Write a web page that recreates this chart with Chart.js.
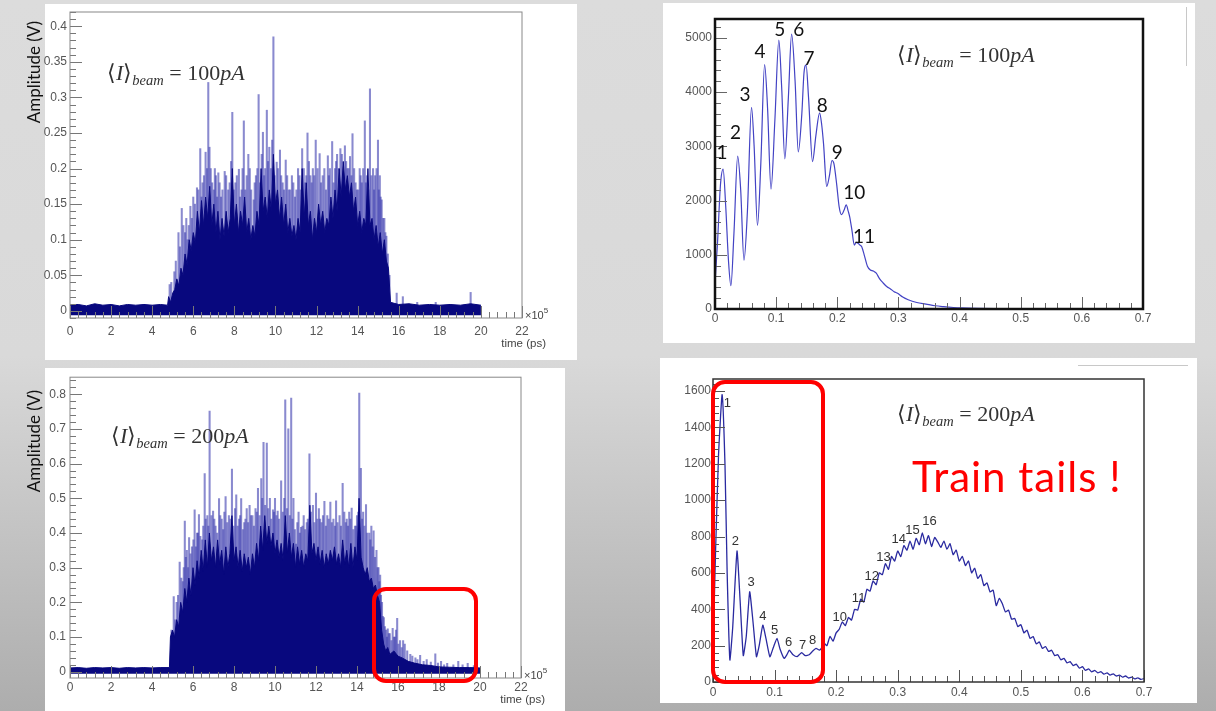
<!DOCTYPE html>
<html>
<head>
<meta charset="utf-8">
<title>Beam time structure</title>
<script src="https://cdn.jsdelivr.net/npm/chart.js@4.4.1/dist/chart.umd.min.js"></script>
<style>
  html, body { margin: 0; padding: 0; }
  body {
    position: relative; width: 1216px; height: 711px; overflow: hidden;
    background: linear-gradient(to bottom, #dcdcdc 0%, #d9d9d9 50%, #adadad 100%);
  }
  .panel { position: absolute; background: #fff; }
  canvas { position: absolute; }
  .ytitle { position: absolute; font: 17px Lato, sans-serif; color: #111; white-space: nowrap;
            transform: translate(-50%, -50%) rotate(-90deg); }
  .beam { position: absolute; font: 22px/22px "Liberation Serif", serif; color: #333; white-space: nowrap; }
  .beam sub { font-size: 14.5px; vertical-align: -5px; line-height: 0; }
  .tails { position: absolute; left: 912px; top: 455px; font: 42px/42px Lato, sans-serif; letter-spacing: 1px;
           color: #f00; white-space: nowrap; }
  .redbox { position: absolute; border: 4.5px solid #f00; border-radius: 14px; box-sizing: border-box; }
  .rule { position: absolute; background: #c8c8c8; }
</style>
</head>
<body>
<div class="panel" style="left:45px;top:4px;width:532px;height:356px"></div>
<div class="panel" style="left:663px;top:3px;width:532px;height:340px"></div>
<div class="panel" style="left:45px;top:368px;width:520px;height:343px"></div>
<div class="panel" style="left:660px;top:358px;width:537px;height:345px"></div>
<div class="rule" style="left:1186px;top:7px;width:1px;height:59px"></div>
<div class="rule" style="left:1078px;top:365px;width:110px;height:1px"></div>

<canvas id="wave100" width="580" height="362" style="left:0;top:0"></canvas>
<canvas id="hist100" width="532" height="340" style="left:663px;top:3px"></canvas>
<canvas id="wave200" width="570" height="345" style="left:0;top:366px"></canvas>
<canvas id="hist200" width="537" height="345" style="left:660px;top:358px"></canvas>

<div class="ytitle" style="left:33px;top:72px">Amplitude (V)</div>
<div class="ytitle" style="left:33px;top:441px">Amplitude (V)</div>
<div class="beam" style="left:107px;top:62px">⟨<i>I</i>⟩<sub><i>beam</i></sub> = 100<i>pA</i></div>
<div class="beam" style="left:111px;top:425px">⟨<i>I</i>⟩<sub><i>beam</i></sub> = 200<i>pA</i></div>
<div class="beam" style="left:897px;top:44px">⟨<i>I</i>⟩<sub><i>beam</i></sub> = 100<i>pA</i></div>
<div class="beam" style="left:897px;top:403px">⟨<i>I</i>⟩<sub><i>beam</i></sub> = 200<i>pA</i></div>
<div class="tails">Train tails !</div>
<div class="redbox" style="left:372px;top:587px;width:106px;height:96px"></div>
<div class="redbox" style="left:711px;top:380px;width:114px;height:304px"></div>

<script>
// time axis (units of 1e5 ps)
const timeTicks = [0, 2, 4, 6, 8, 10, 12, 14, 16, 18, 20, 22];
const timeLabels = ['0', '2', '4', '6', '8', '10', '12', '14', '16', '18', '20', '22'];

// --- top left : oscilloscope trace, 100 pA
const p1YTicks = [0, 0.05, 0.1, 0.15, 0.2, 0.25, 0.3, 0.35, 0.4];
const p1YLabels = ['0', '0.05', '0.1', '0.15', '0.2', '0.25', '0.3', '0.35', '0.4'];
// tall isolated pulses
const p1SpikeTime = [
  4.85, 4.93, 5.08, 5.28, 5.44, 5.6, 5.72, 5.86, 6.0, 6.18,
  6.34, 6.45, 6.6, 6.73, 6.85, 7.0, 7.1, 7.22, 7.35, 7.53,
  7.7, 7.9, 8.05, 8.22, 8.35, 8.46, 8.6, 8.75, 8.94, 9.05,
  9.18, 9.39, 9.5, 9.58, 9.7, 9.9, 10.06, 10.22, 10.35, 10.5,
  10.65, 10.8, 10.95, 11.1, 11.3, 11.45, 11.56, 11.7, 11.82, 11.96,
  12.15, 12.3, 12.55, 12.65, 12.76, 12.9, 13.0, 13.16, 13.38, 13.5,
  13.63, 13.75, 13.96, 14.1, 14.2, 14.35, 14.45, 14.6, 14.75, 14.85,
  14.99, 15.08, 15.17, 15.3, 15.4, 15.47, 15.55, 15.9, 16.2, 16.9,
  17.8, 19.5
];
const p1SpikeAmp = [
  0.037, 0.04, 0.055, 0.11, 0.144, 0.11, 0.1, 0.147, 0.16, 0.173,
  0.228, 0.18, 0.223, 0.321, 0.2, 0.17, 0.19, 0.194, 0.16, 0.196,
  0.17, 0.279, 0.18, 0.199, 0.17, 0.267, 0.19, 0.2, 0.156, 0.19,
  0.304, 0.251, 0.2, 0.282, 0.23, 0.385, 0.209, 0.226, 0.18, 0.212,
  0.17, 0.19, 0.16, 0.2, 0.228, 0.18, 0.25, 0.19, 0.2, 0.24,
  0.221, 0.19, 0.218, 0.2, 0.238, 0.2, 0.22, 0.228, 0.232, 0.2,
  0.217, 0.249, 0.17, 0.2, 0.18, 0.267, 0.19, 0.312, 0.2, 0.19,
  0.24, 0.19, 0.156, 0.13, 0.105, 0.08, 0.05, 0.025, 0.02, 0.012,
  0.012, 0.026
];
// shorter pulses packed between them
const p1PulseTime = [
  5.15, 5.35, 5.52, 5.66, 5.78, 5.93, 6.08, 6.25, 6.4, 6.52,
  6.67, 6.79, 6.92, 7.05, 7.16, 7.28, 7.42, 7.6, 7.77, 7.84,
  7.97, 8.12, 8.28, 8.4, 8.53, 8.68, 8.82, 8.99, 9.12, 9.25,
  9.33, 9.45, 9.64, 9.78, 9.84, 9.96, 10.12, 10.28, 10.42, 10.57,
  10.72, 10.87, 11.02, 11.17, 11.23, 11.38, 11.5, 11.63, 11.76, 11.89,
  12.05, 12.22, 12.38, 12.46, 12.6, 12.83, 12.95, 13.08, 13.23, 13.3,
  13.44, 13.56, 13.7, 13.83, 13.9, 14.03, 14.15, 14.27, 14.4, 14.52,
  14.67, 14.8, 14.92, 15.03, 15.12, 15.24, 15.35
];
const p1PulseAmp = [
  0.07, 0.09, 0.12, 0.13, 0.12, 0.13, 0.15, 0.17, 0.16, 0.19,
  0.2, 0.23, 0.18, 0.2, 0.16, 0.18, 0.17, 0.19, 0.18, 0.21,
  0.17, 0.19, 0.16, 0.2, 0.17, 0.22, 0.17, 0.18, 0.2, 0.18,
  0.22, 0.19, 0.21, 0.2, 0.24, 0.19, 0.2, 0.19, 0.17, 0.19,
  0.17, 0.18, 0.17, 0.19, 0.17, 0.2, 0.19, 0.21, 0.18, 0.19,
  0.2, 0.18, 0.2, 0.17, 0.19, 0.18, 0.21, 0.2, 0.22, 0.19,
  0.21, 0.2, 0.19, 0.2, 0.18, 0.17, 0.19, 0.2, 0.18, 0.17,
  0.19, 0.17, 0.2, 0.17, 0.16, 0.13, 0.11
];
// dense dark part of the trace (upper edge)
const p1BodyTime = [
  0, 0.4, 0.8, 1.2, 1.6, 2.0, 2.4, 2.8, 3.2, 3.6, 4.0, 4.4, 4.75,
  4.8, 4.9,
  5.0, 5.1, 5.2, 5.3, 5.4, 5.5, 5.6, 5.7, 5.8, 5.9,
  6.0, 6.1, 6.2, 6.3, 6.4, 6.5, 6.6, 6.7, 6.8, 6.9,
  7.0, 7.1, 7.2, 7.3, 7.4, 7.5, 7.6, 7.7, 7.8, 7.9,
  8.0, 8.1, 8.2, 8.3, 8.4, 8.5, 8.6, 8.7, 8.8, 8.9,
  9.0, 9.1, 9.2, 9.3, 9.4, 9.5, 9.6, 9.7, 9.8, 9.9,
  10.0, 10.1, 10.2, 10.3, 10.4, 10.5, 10.6, 10.7, 10.8, 10.9,
  11.0, 11.1, 11.2, 11.3, 11.4, 11.5, 11.6, 11.7, 11.8, 11.9,
  12.0, 12.1, 12.2, 12.3, 12.4, 12.5, 12.6, 12.7, 12.8, 12.9,
  13.0, 13.1, 13.2, 13.3, 13.4, 13.5, 13.6, 13.7, 13.8, 13.9,
  14.0, 14.1, 14.2, 14.3, 14.4, 14.5, 14.6, 14.7, 14.8, 14.9,
  15.0, 15.1, 15.2, 15.3, 15.4, 15.5, 15.6,
  16.0, 16.5, 17.0, 17.5, 18.0, 18.5, 19.0, 19.5, 20.0
];
const p1BodyAmp = [
  0.008, 0.009, 0.007, 0.01, 0.008, 0.009, 0.007, 0.009, 0.008, 0.009, 0.008, 0.009, 0.008,
  0.02, 0.012,
  0.025, 0.03, 0.045, 0.035, 0.06, 0.05, 0.08, 0.065, 0.1, 0.085,
  0.11, 0.095, 0.14, 0.11, 0.155, 0.12, 0.16, 0.13, 0.175, 0.12,
  0.15, 0.11, 0.14, 0.1, 0.13, 0.105, 0.14, 0.11, 0.13, 0.2,
  0.12, 0.15, 0.11, 0.14, 0.12, 0.16, 0.11, 0.13, 0.1, 0.12,
  0.105, 0.14, 0.12, 0.2, 0.14, 0.16, 0.13, 0.17, 0.14, 0.22,
  0.15, 0.17, 0.13, 0.16, 0.12, 0.15, 0.11, 0.13, 0.105, 0.12,
  0.1, 0.13, 0.11, 0.2, 0.13, 0.18, 0.12, 0.14, 0.1, 0.13,
  0.11, 0.15, 0.12, 0.14, 0.11, 0.13, 0.12, 0.16, 0.13, 0.17,
  0.14, 0.2, 0.16, 0.21, 0.17, 0.19, 0.16, 0.18, 0.14, 0.16,
  0.12, 0.14, 0.11, 0.13, 0.12, 0.2, 0.12, 0.13, 0.1, 0.12,
  0.09, 0.11, 0.08, 0.1, 0.07, 0.06, 0.012,
  0.009, 0.01, 0.008, 0.009, 0.008, 0.009, 0.008, 0.01, 0.008
];

// --- bottom left : oscilloscope trace, 200 pA
const p3YTicks = [0, 0.1, 0.2, 0.3, 0.4, 0.5, 0.6, 0.7, 0.8];
const p3YLabels = ['0', '0.1', '0.2', '0.3', '0.4', '0.5', '0.6', '0.7', '0.8'];
const p3SpikeTime = [
  4.95, 5.06, 5.2, 5.35, 5.5, 5.6, 5.7, 5.81, 5.95, 6.08,
  6.2, 6.29, 6.45, 6.57, 6.7, 6.81, 6.98, 7.1, 7.27, 7.4,
  7.59, 7.75, 7.9, 8.11, 8.25, 8.35, 8.5, 8.62, 8.76, 8.9,
  9.05, 9.17, 9.33, 9.44, 9.6, 9.75, 9.9, 10.0, 10.13, 10.3,
  10.5, 10.65, 10.79, 10.9, 11.03, 11.15, 11.27, 11.4, 11.55, 11.68,
  11.85, 12.0, 12.2, 12.41, 12.55, 12.7, 12.85, 12.98, 13.15, 13.3,
  13.5, 13.62, 13.74, 13.9, 14.0, 14.11, 14.19, 14.3, 14.44, 14.6,
  14.7, 14.81, 14.95, 15.05, 15.13, 15.22, 15.31, 15.42, 15.5, 15.6,
  15.74, 15.85, 15.96, 16.1, 16.33, 16.6, 16.85, 17.08, 17.4, 17.82,
  18.1, 18.4, 18.94, 19.4
];
const p3SpikeAmp = [
  0.12, 0.217, 0.2, 0.316, 0.26, 0.434, 0.35, 0.387, 0.36, 0.467,
  0.4, 0.453, 0.38, 0.571, 0.45, 0.751, 0.463, 0.42, 0.499, 0.44,
  0.505, 0.45, 0.584, 0.51, 0.44, 0.499, 0.43, 0.47, 0.48, 0.45,
  0.47, 0.529, 0.557, 0.661, 0.659, 0.5, 0.467, 0.5, 0.463, 0.55,
  0.784, 0.7, 0.789, 0.5, 0.368, 0.46, 0.416, 0.45, 0.43, 0.628,
  0.48, 0.515, 0.44, 0.491, 0.45, 0.489, 0.44, 0.493, 0.45, 0.543,
  0.44, 0.46, 0.472, 0.42, 0.45, 0.803, 0.586, 0.46, 0.482, 0.4,
  0.42, 0.406, 0.35, 0.3, 0.279, 0.2, 0.156, 0.12, 0.124, 0.11,
  0.125, 0.1, 0.154, 0.09, 0.08, 0.05, 0.04, 0.047, 0.035, 0.052,
  0.03, 0.024, 0.03, 0.024
];
const p3PulseTime = [
  5.13, 5.27, 5.43, 5.55, 5.65, 5.76, 5.88, 6.02, 6.14, 6.24,
  6.36, 6.5, 6.62, 6.75, 6.9, 7.04, 7.18, 7.33, 7.47, 7.53,
  7.67, 7.83, 7.97, 8.05, 8.18, 8.3, 8.43, 8.56, 8.69, 8.83,
  8.97, 9.11, 9.25, 9.38, 9.52, 9.67, 9.82, 9.95, 10.07, 10.2,
  10.38, 10.45, 10.58, 10.72, 10.85, 10.97, 11.09, 11.21, 11.34, 11.47,
  11.6, 11.75, 11.92, 12.07, 12.14, 12.27, 12.34, 12.48, 12.62, 12.77,
  12.92, 13.05, 13.22, 13.38, 13.45, 13.56, 13.68, 13.82, 13.96, 14.06,
  14.25, 14.36, 14.5, 14.65, 14.76, 14.88, 15.0, 15.09, 15.17, 15.26,
  15.36, 15.46, 15.55, 15.68, 15.8, 15.9, 16.02, 16.18, 16.25, 16.45,
  16.7, 16.95, 17.25, 17.6, 17.95, 18.25, 18.7, 19.15, 19.7
];
const p3PulseAmp = [
  0.15, 0.22, 0.27, 0.3, 0.33, 0.3, 0.34, 0.38, 0.36, 0.4,
  0.39, 0.42, 0.44, 0.42, 0.45, 0.44, 0.4, 0.45, 0.41, 0.46,
  0.43, 0.44, 0.42, 0.47, 0.42, 0.45, 0.41, 0.44, 0.43, 0.45,
  0.42, 0.46, 0.45, 0.5, 0.48, 0.47, 0.44, 0.46, 0.45, 0.44,
  0.46, 0.5, 0.47, 0.45, 0.44, 0.41, 0.43, 0.4, 0.42, 0.41,
  0.44, 0.46, 0.43, 0.44, 0.47, 0.43, 0.45, 0.42, 0.44, 0.43,
  0.42, 0.43, 0.42, 0.46, 0.43, 0.42, 0.44, 0.41, 0.42, 0.46,
  0.44, 0.42, 0.4, 0.38, 0.36, 0.33, 0.3, 0.26, 0.22, 0.16,
  0.13, 0.1, 0.11, 0.09, 0.1, 0.12, 0.08, 0.07, 0.09, 0.06,
  0.045, 0.035, 0.03, 0.028, 0.025, 0.02, 0.02, 0.02, 0.018
];
const p3BodyTime = [
  0, 0.4, 0.8, 1.2, 1.6, 2.0, 2.4, 2.8, 3.2, 3.6, 4.0, 4.4, 4.85,
  4.9, 5.0, 5.1, 5.2, 5.3, 5.4, 5.5, 5.6, 5.7, 5.8, 5.9,
  6.0, 6.1, 6.2, 6.3, 6.4, 6.5, 6.6, 6.7, 6.8, 6.9,
  7.0, 7.1, 7.2, 7.3, 7.4, 7.5, 7.6, 7.7, 7.8, 7.9,
  8.0, 8.1, 8.2, 8.3, 8.4, 8.5, 8.6, 8.7, 8.8, 8.9,
  9.0, 9.1, 9.2, 9.3, 9.4, 9.5, 9.6, 9.7, 9.8, 9.9,
  10.0, 10.1, 10.2, 10.3, 10.4, 10.5, 10.6, 10.7, 10.8, 10.9,
  11.0, 11.1, 11.2, 11.3, 11.4, 11.5, 11.6, 11.7, 11.8, 11.9,
  12.0, 12.1, 12.2, 12.3, 12.4, 12.5, 12.6, 12.7, 12.8, 12.9,
  13.0, 13.1, 13.2, 13.3, 13.4, 13.5, 13.6, 13.7, 13.8, 13.9,
  14.0, 14.1, 14.2, 14.3, 14.4, 14.5, 14.6, 14.7, 14.8, 14.9,
  15.0, 15.1, 15.2, 15.3, 15.4, 15.5, 15.6,
  15.8, 16.0, 16.2, 16.5, 16.8, 17.2, 17.6, 18.0, 18.5, 19.0, 19.5, 20.0
];
const p3BodyAmp = [
  0.011, 0.012, 0.01, 0.012, 0.011, 0.012, 0.01, 0.012, 0.011, 0.012, 0.011, 0.012, 0.012,
  0.1, 0.12, 0.1, 0.15, 0.13, 0.2, 0.17, 0.24, 0.2, 0.27, 0.22,
  0.3, 0.25, 0.32, 0.27, 0.35, 0.29, 0.38, 0.3, 0.4, 0.32,
  0.36, 0.3, 0.38, 0.31, 0.35, 0.28, 0.36, 0.3, 0.34, 0.45,
  0.32, 0.36, 0.3, 0.35, 0.29, 0.34, 0.3, 0.33, 0.28, 0.34,
  0.3, 0.37, 0.32, 0.42, 0.35, 0.45, 0.37, 0.42, 0.36, 0.4,
  0.34, 0.38, 0.33, 0.37, 0.32, 0.45, 0.34, 0.4, 0.33, 0.37,
  0.3, 0.36, 0.31, 0.35, 0.3, 0.34, 0.32, 0.48, 0.34, 0.37,
  0.32, 0.36, 0.31, 0.35, 0.3, 0.34, 0.31, 0.35, 0.32, 0.36,
  0.31, 0.34, 0.3, 0.38, 0.31, 0.35, 0.3, 0.37, 0.3, 0.36,
  0.32, 0.5, 0.33, 0.3, 0.28, 0.3, 0.26, 0.27, 0.24, 0.25,
  0.22, 0.2, 0.12, 0.08, 0.06, 0.07, 0.05,
  0.06, 0.045, 0.04, 0.03, 0.025, 0.02, 0.018, 0.014, 0.013, 0.012, 0.012, 0.011
];

// --- top right : time distribution, 100 pA
const p2XTicks = [0, 0.1, 0.2, 0.3, 0.4, 0.5, 0.6, 0.7];
const p2XLabels = ['0', '0.1', '0.2', '0.3', '0.4', '0.5', '0.6', '0.7'];
const p2YTicks = [0, 1000, 2000, 3000, 4000, 5000];
const p2YLabels = ['0', '1000', '2000', '3000', '4000', '5000'];
const p2Time = [
  0, 0.004, 0.009, 0.0133, 0.0175, 0.022, 0.026, 0.031, 0.0371, 0.042,
  0.0474, 0.053, 0.0597, 0.064, 0.0695, 0.075, 0.0811, 0.086, 0.0916, 0.098,
  0.1044, 0.109, 0.1142, 0.12, 0.1253, 0.131, 0.1362, 0.142, 0.1455, 0.149,
  0.153, 0.1595, 0.165, 0.1711, 0.1745, 0.1775, 0.1827, 0.187, 0.1914, 0.1945,
  0.199, 0.203, 0.207, 0.211, 0.2146, 0.218, 0.2203, 0.224, 0.2278, 0.231,
  0.2343, 0.237, 0.24, 0.244, 0.2493, 0.254, 0.259, 0.2638, 0.269, 0.275,
  0.2813, 0.287, 0.293, 0.2987, 0.307, 0.316, 0.33, 0.345, 0.36, 0.374,
  0.39, 0.403, 0.43, 0.46, 0.49, 0.55, 0.62, 0.7
];
const p2Count = [
  480, 1200, 2300, 2580, 1900, 900, 430, 1400, 2820, 2200,
  900, 1800, 3720, 3000, 1540, 2700, 4510, 3700, 2210, 3500,
  4960, 4100, 2770, 3900, 5070, 4200, 2900, 3600, 4350, 4500,
  3900, 2720, 3200, 3620, 3400, 3050, 2260, 2450, 2740, 2680,
  2300, 1890, 1740, 1820, 1920, 1800, 1700, 1450, 1180, 1230,
  1210, 1180, 1150, 1000, 790, 720, 700, 660, 560, 480,
  410, 370, 320, 290, 220, 170, 120, 90, 60, 43,
  28, 20, 12, 8, 6, 3, 1, 0
];
const p2PeakText = ['1', '2', '3', '4', '5', '6', '7', '8', '9', '10', '11'];
const p2PeakX = [0.0115, 0.0335, 0.049, 0.0736, 0.106, 0.137, 0.1538, 0.1756, 0.2, 0.2278, 0.2437];
const p2PeakY = [2878, 3247, 3948, 4742, 5148, 5148, 4613, 3745, 2884, 2146, 1328];

// --- bottom right : time distribution, 200 pA
const p4YTicks = [0, 200, 400, 600, 800, 1000, 1200, 1400, 1600];
const p4YLabels = ['0', '200', '400', '600', '800', '1000', '1200', '1400', '1600'];
const p4Time = [
  0, 0.004, 0.009, 0.0148, 0.0195, 0.023, 0.0274, 0.032, 0.039, 0.044,
  0.0492, 0.054, 0.0596, 0.065, 0.0706, 0.075, 0.0809, 0.086, 0.0924, 0.098,
  0.1039, 0.109, 0.1155, 0.12, 0.124, 0.13, 0.1365, 0.14, 0.144, 0.15,
  0.1562, 0.162, 0.1673, 0.173, 0.177,
  0.18, 0.185, 0.19, 0.195, 0.2, 0.205, 0.21, 0.215, 0.22, 0.225,
  0.23, 0.235, 0.24, 0.245, 0.25, 0.255, 0.26, 0.265, 0.27, 0.275,
  0.28, 0.285, 0.29, 0.295, 0.3, 0.305, 0.31, 0.315, 0.32, 0.325,
  0.33, 0.335, 0.34, 0.345, 0.35, 0.355, 0.36, 0.365, 0.37, 0.375,
  0.38, 0.385, 0.39, 0.395, 0.4, 0.405, 0.41, 0.415, 0.42, 0.425,
  0.43, 0.435, 0.44, 0.445, 0.45, 0.455, 0.46, 0.465, 0.47, 0.475,
  0.48, 0.485, 0.49, 0.495, 0.5, 0.505, 0.51, 0.515, 0.52, 0.525,
  0.53, 0.535, 0.54, 0.545, 0.55, 0.555, 0.56, 0.565, 0.57, 0.575,
  0.58, 0.585, 0.59, 0.595, 0.6, 0.605, 0.61, 0.615, 0.62, 0.625,
  0.63, 0.635, 0.64, 0.645, 0.65, 0.655, 0.66, 0.665, 0.67, 0.675,
  0.68, 0.685, 0.69, 0.695, 0.7
];
const p4Count = [
  150, 700, 1250, 1580, 1190, 600, 121, 300, 720, 450,
  145, 250, 496, 330, 139, 200, 313, 240, 139, 190,
  240, 180, 130, 150, 175, 150, 139, 150, 161, 145,
  150, 170, 185, 175, 190,
  215, 200, 250, 225, 270, 290, 330, 310, 355, 340,
  400, 395, 455, 440, 510, 500, 555, 535, 600, 590,
  650, 620, 690, 665, 720, 690, 750, 725, 775, 730,
  790, 755, 820, 760, 805, 745, 795, 770, 740, 775,
  730, 760, 700, 725, 665, 690, 640, 665, 600, 625,
  570, 590, 530, 545, 495, 505, 420, 460, 430, 385,
  395, 345, 350, 305, 315, 270, 285, 240, 250, 210,
  220, 185, 195, 168, 175, 145, 150, 122, 130, 105,
  112, 90, 98, 76, 84, 64, 72, 56, 64, 50,
  57, 43, 50, 38, 45, 33, 38, 27, 33, 22,
  27, 17, 23, 14, 19, 13
];
const p4PeakText = ['1', '2', '3', '4', '5', '6', '7', '8', '10', '11', '12', '13', '14', '15', '16'];
const p4PeakX = [0.0234, 0.0365, 0.0619, 0.0809, 0.0999, 0.123, 0.1455, 0.1616, 0.206, 0.2365, 0.2578, 0.2768, 0.3016, 0.324, 0.3516];
const p4PeakY = [1531, 771, 546, 359, 282, 218, 203, 231, 355, 460, 579, 683, 784, 835, 885];

const pts = (xs, ys) => xs.map((x, i) => ({ x: x, y: ys[i] }));
const tickFont = { family: 'Liberation Sans', size: 12 };

// ROOT-like frame with inward major/minor ticks
function framePlugin(st) {
  return {
    id: 'rootFrame',
    afterDatasetsDraw(chart) {
      const { ctx, chartArea: a, scales: { x, y } } = chart;
      ctx.save();
      ctx.strokeStyle = st.tickColor;
      ctx.lineWidth = 1;
      ctx.beginPath();
      const mx = st.xStep / 5, my = st.yStep / 5;
      for (let i = Math.ceil(x.min / mx - 1e-6); i * mx <= x.max + 1e-9; i++) {
        const px = Math.round(x.getPixelForValue(i * mx)) + 0.5;
        const len = i % 5 === 0 ? st.major : st.minor;
        ctx.moveTo(px, a.bottom);
        ctx.lineTo(px, a.bottom - len);
      }
      for (let j = Math.ceil(y.min / my - 1e-6); j * my <= y.max + 1e-9; j++) {
        const py = Math.round(y.getPixelForValue(j * my)) + 0.5;
        const len = j % 5 === 0 ? st.major : st.minor;
        ctx.moveTo(a.left, py);
        ctx.lineTo(a.left + len, py);
      }
      ctx.stroke();
      ctx.strokeStyle = st.frameColor;
      ctx.lineWidth = st.frameWidth;
      ctx.strokeRect(a.left, a.top, a.right - a.left, a.bottom - a.top);
      ctx.restore();
    }
  };
}

// "x10^5" and "time (ps)" under the time axis
function unitPlugin(dy) {
  return {
    id: 'timeUnit',
    afterDraw(chart) {
      const { ctx, chartArea: a } = chart;
      ctx.save();
      ctx.fillStyle = '#444';
      ctx.textBaseline = 'middle';
      ctx.textAlign = 'left';
      ctx.font = '11px "Liberation Sans"';
      ctx.fillText('×10', a.right + 3, a.bottom - 2);
      const w = ctx.measureText('×10').width;
      ctx.font = '8px "Liberation Sans"';
      ctx.fillText('5', a.right + 3 + w, a.bottom - 7);
      ctx.font = '11.5px "Liberation Sans"';
      ctx.textAlign = 'right';
      ctx.fillText('time (ps)', a.right + 24, a.bottom + dy);
      ctx.restore();
    }
  };
}

function peakPlugin(xs, ys, texts, font, color) {
  return {
    id: 'peakLabels',
    afterDatasetsDraw(chart) {
      const { ctx, scales: { x, y } } = chart;
      ctx.save();
      ctx.font = font;
      ctx.fillStyle = color;
      ctx.textAlign = 'center';
      ctx.textBaseline = 'middle';
      texts.forEach((t, i) => ctx.fillText(t, x.getPixelForValue(xs[i]), y.getPixelForValue(ys[i])));
      ctx.restore();
    }
  };
}

function axes(o) {
  return {
    x: {
      type: 'linear', min: o.xMin, max: o.xMax, offset: false,
      grid: { display: false, drawTicks: false }, border: { display: false },
      afterBuildTicks: s => { s.ticks = o.xTicks.map(v => ({ value: v })); },
      afterFit: s => { s.height = o.xH; },
      ticks: { autoSkip: false, maxRotation: 0, padding: o.xPad, color: '#555', font: tickFont,
               callback: (v, i) => o.xLabels[i] }
    },
    y: {
      type: 'linear', min: o.yMin, max: o.yMax,
      grid: { display: false, drawTicks: false }, border: { display: false },
      afterBuildTicks: s => { s.ticks = o.yTicks.map(v => ({ value: v })); },
      afterFit: s => { s.width = o.yW; },
      ticks: { autoSkip: false, padding: o.yPad, color: '#555', font: tickFont,
               callback: (v, i) => o.yLabels[i] }
    }
  };
}

const common = {
  responsive: false, animation: false, events: [],
  plugins: { legend: { display: false }, tooltip: { enabled: false } }
};

function waveChart(id, o) {
  const pulses = (ts, as) => ts.map((t, i) => ({ x: t, y: [0, as[i]] }));
  return new Chart(document.getElementById(id), {
    type: 'line',
    data: {
      datasets: [
        { data: pts(o.bodyT, o.bodyA), borderColor: '#08087e', backgroundColor: '#08087e',
          borderWidth: 1, pointRadius: 0, tension: 0, fill: { value: o.floor }, order: 0 },
        { type: 'bar', data: pulses(o.spikeT, o.spikeA).concat(pulses(o.pulseT, o.pulseA)),
          backgroundColor: 'rgba(60,60,175,0.6)', borderWidth: 0, barThickness: 1.4, order: 1 }
      ]
    },
    options: Object.assign({}, common, {
      layout: { padding: { top: o.padT, right: o.padR, left: 0, bottom: 0 } },
      scales: axes(o)
    }),
    plugins: [framePlugin(o.frame), unitPlugin(o.unitDy)]
  });
}

function histChart(id, o) {
  return new Chart(document.getElementById(id), {
    type: 'line',
    data: {
      datasets: [
        { data: pts(o.xs, o.ys), borderColor: o.color, borderWidth: o.lw, pointRadius: 0,
          tension: o.tension, cubicInterpolationMode: o.mode, fill: false }
      ]
    },
    options: Object.assign({}, common, {
      layout: { padding: { top: o.padT, right: o.padR, left: 0, bottom: 0 } },
      scales: axes(o)
    }),
    plugins: [framePlugin(o.frame), peakPlugin(o.lx, o.ly, o.lt, o.lFont, o.lColor)]
  });
}

waveChart('wave100', {
  bodyT: p1BodyTime, bodyA: p1BodyAmp, spikeT: p1SpikeTime, spikeA: p1SpikeAmp,
  pulseT: p1PulseTime, pulseA: p1PulseAmp, floor: -0.006,
  xMin: 0, xMax: 22, xTicks: timeTicks, xLabels: timeLabels,
  yMin: -0.01, yMax: 0.42, yTicks: p1YTicks, yLabels: p1YLabels,
  padT: 12, padR: 58, yW: 70, xH: 44, xPad: 6, yPad: 3, unitDy: 26,
  frame: { xStep: 2, yStep: 0.05, major: 12, minor: 6, tickColor: '#777', frameColor: '#888', frameWidth: 1 }
});

waveChart('wave200', {
  bodyT: p3BodyTime, bodyA: p3BodyAmp, spikeT: p3SpikeTime, spikeA: p3SpikeAmp,
  pulseT: p3PulseTime, pulseA: p3PulseAmp, floor: -0.006,
  xMin: 0, xMax: 22, xTicks: timeTicks, xLabels: timeLabels,
  yMin: -0.018, yMax: 0.849, yTicks: p3YTicks, yLabels: p3YLabels,
  padT: 6, padR: 49, yW: 70, xH: 33, xPad: 2, yPad: 4, unitDy: 22,
  frame: { xStep: 2, yStep: 0.1, major: 12, minor: 6, tickColor: '#777', frameColor: '#888', frameWidth: 1 }
});

histChart('hist100', {
  xs: p2Time, ys: p2Count, color: '#4343c4', lw: 1.2, tension: 0.4, mode: 'monotone',
  xMin: 0, xMax: 0.7, xTicks: p2XTicks, xLabels: p2XLabels,
  yMin: 0, yMax: 5350, yTicks: p2YTicks, yLabels: p2YLabels,
  padT: 16, padR: 52, yW: 52, xH: 34, xPad: 2, yPad: 3,
  frame: { xStep: 0.1, yStep: 1000, major: 12, minor: 6, tickColor: '#666', frameColor: '#111', frameWidth: 2.5 },
  lx: p2PeakX, ly: p2PeakY, lt: p2PeakText, lFont: '19px Lato', lColor: '#111'
});

histChart('hist200', {
  xs: p4Time, ys: p4Count, color: '#2a2aa0', lw: 1.3, tension: 0.15, mode: 'default',
  xMin: 0, xMax: 0.7, xTicks: p2XTicks, xLabels: p2XLabels,
  yMin: 0, yMax: 1666, yTicks: p4YTicks, yLabels: p4YLabels,
  padT: 21, padR: 53, yW: 53, xH: 21, xPad: 3, yPad: 2,
  frame: { xStep: 0.1, yStep: 200, major: 12, minor: 6, tickColor: '#555', frameColor: '#333', frameWidth: 1.5 },
  lx: p4PeakX, ly: p4PeakY, lt: p4PeakText, lFont: '13px "Liberation Sans"', lColor: '#333'
});
</script>
</body>
</html>
